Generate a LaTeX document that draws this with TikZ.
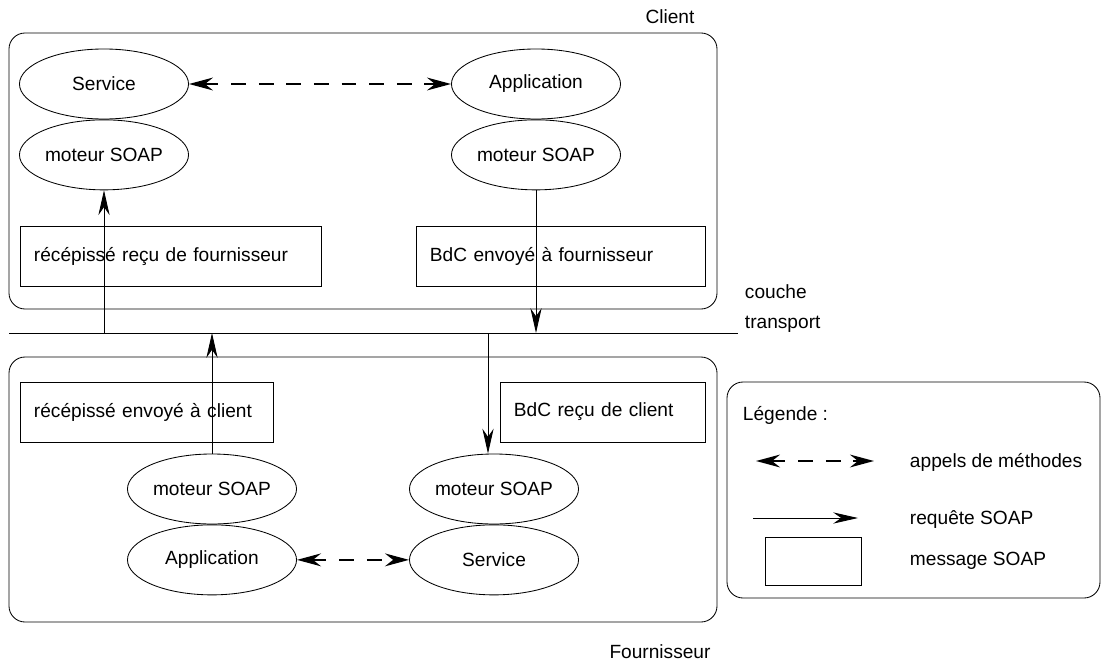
\documentclass[tikz,border=0pt]{standalone}
\usepackage{fontspec}
\setmainfont{Liberation Sans}
\usetikzlibrary{positioning,shapes.geometric,arrows.meta}
\tikzset{
  every node/.style={font=\fontsize{13.6}{16}\selectfont},
  bulle/.style={ellipse,draw,line width=0.6pt,minimum width=4.225cm,minimum height=1.75cm,inner sep=0pt},
  msg/.style={draw,line width=0.6pt,minimum height=1.5cm,inner xsep=0.35cm,align=left},
  req/.style={line width=0.6pt,-{Stealth[length=0.62cm,width=0.28cm,inset=0.2cm]}},
  appel/.style={line width=1.8pt,dash pattern=on 0.37cm off 0.32cm,
    {Stealth[length=0.6cm,width=0.32cm,inset=0.2cm]}-{Stealth[length=0.6cm,width=0.32cm,inset=0.2cm]}},
  cadre/.style={line width=0.6pt,rounded corners=0.4cm},
}
\begin{document}
\begin{tikzpicture}[x=0.025cm,y=-0.025cm]
  \useasboundingbox (0,0) rectangle (1102,663);
  % client
  \draw[cadre] (9,33) rectangle (717,309);
  \node (client) at (670,17) {Client};
  \node[bulle] (cserv) at (104,84) {Service};
  \node[bulle,below=0cm of cserv] (cmotL) {moteur SOAP};
  \node[bulle] (capp) at (536,84) {Application};
  \node[bulle,below=0cm of capp] (cmotR) {moteur SOAP};
  \node[msg,text width=6.825cm] (crecu) at (170.5,256) {récépissé reçu de fournisseur};
  \node[msg,text width=6.525cm] (cenv) at (560.5,256) {BdC envoyé à fournisseur};
  \draw[appel] (cserv.east) -- (capp.west);
  % couche transport
  \coordinate (tl) at (9,333);
  \coordinate (tr) at (738,333);
  \draw[line width=0.6pt] (tl) -- (tr);
  \node[anchor=west] (couche) at (740,292) {couche};
  \node[anchor=west] (transp) at (740,324) {transport};
  % fournisseur
  \draw[cadre] (9,357) rectangle (717,622);
  \node (fourn) at (660,652) {Fournisseur};
  \node[msg,text width=5.625cm] (fenv) at (146.5,412) {récépissé envoyé à client};
  \node[msg,text width=4.425cm] (frecu) at (602.5,412) {BdC reçu de client};
  \node[bulle] (fmotL) at (212,489) {moteur SOAP};
  \node[bulle,below=0cm of fmotL] (fapp) {Application};
  \node[bulle] (fmotR) at (494,489) {moteur SOAP};
  \node[bulle,below=0cm of fmotR] (fserv) {Service};
  \draw[appel] (fapp.east) -- (fserv.west);
  % requetes
  \coordinate (fin) at ([xshift=-0.15cm]fmotR.north);
  \draw[req] (cmotL |- tl) -- (cmotL.south);
  \draw[req] (cmotR.south) -- (cmotR |- tl);
  \draw[req] (fmotL.north) -- (fmotL |- tl);
  \draw[req] (fin |- tl) -- (fin);
  % legende
  \draw[cadre] (727,382) rectangle (1100,598);
  \node[anchor=west] (leg) at (738,415) {Légende :};
  \coordinate (la) at (756,461);
  \coordinate (lb) at (874,461);
  \draw[appel] (la) -- (lb);
  \node[anchor=west] (lappel) at (905,462) {appels de méthodes};
  \coordinate (lc) at (753,518);
  \coordinate (ld) at (858,518);
  \draw[req] (lc) -- (ld);
  \node[anchor=west] (lreq) at (905,520) {requête SOAP};
  \node[draw,line width=0.6pt,minimum width=2.4cm,minimum height=1.2cm] (lmsg) at (813,561) {};
  \node[anchor=west] (lmess) at (905,561) {message SOAP};
\end{tikzpicture}
\end{document}
